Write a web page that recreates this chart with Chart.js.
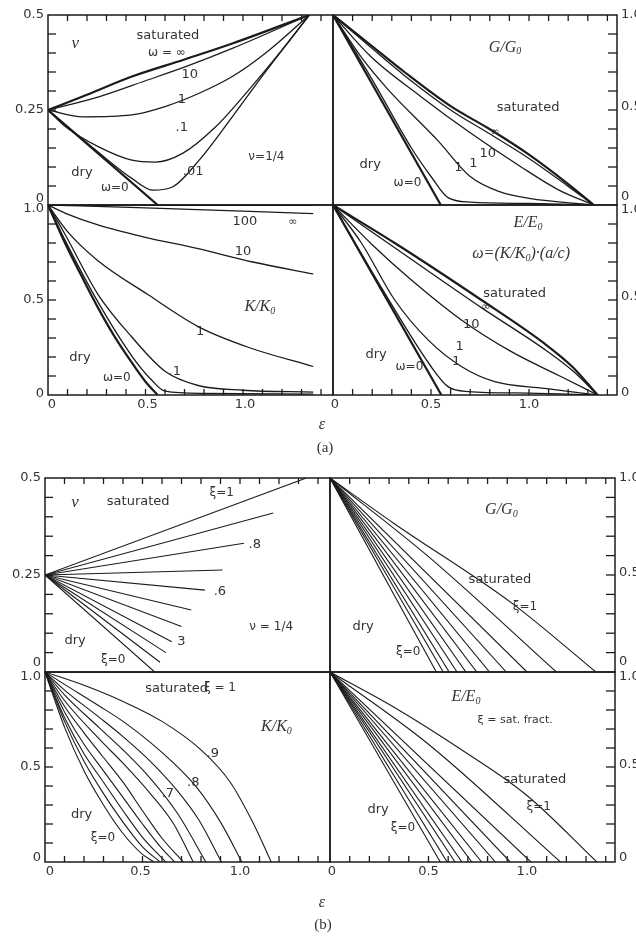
<!DOCTYPE html>
<html><head><meta charset="utf-8">
<script src="https://cdn.jsdelivr.net/npm/chart.js@4.4.0/dist/chart.umd.min.js"></script>
<style>
html,body{margin:0;padding:0;background:#fff;width:636px;height:936px;overflow:hidden}
canvas{position:absolute;left:0}
</style></head><body>
<canvas id="aTL" width="636" height="460" style="top:0"></canvas>
<canvas id="aTR" width="636" height="460" style="top:0"></canvas>
<canvas id="aBL" width="636" height="460" style="top:0"></canvas>
<canvas id="aBR" width="636" height="460" style="top:0"></canvas>
<canvas id="bTL" width="636" height="476" style="top:460px"></canvas>
<canvas id="bTR" width="636" height="476" style="top:460px"></canvas>
<canvas id="bBL" width="636" height="476" style="top:460px"></canvas>
<canvas id="bBR" width="636" height="476" style="top:460px"></canvas>
<script>
// ---------- tick labels ----------
const nuTickValues = [0, 0.25, 0.5];
const nuTickLabels = ['0', '0.25', '0.5'];
const modTickValues = [0, 0.5, 1.0];
const modTickLabels = ['0', '0.5', '1.0'];
const epsTickValues = [0, 0.5, 1.0];
const epsTickLabels = ['0', '0.5', '1.0'];

// ---------- (a) Poisson ratio vs crack density, by omega ----------
const aNuInf = [[0,0.25],[0.2,0.29],[0.43,0.338],[0.7,0.383],[0.945,0.425],[1.34,0.5]];
const aNu10  = [[0,0.25],[0.256,0.284],[0.5,0.327],[0.706,0.364],[0.945,0.412],[1.34,0.5]];
const aNu1   = [[0,0.25],[0.18,0.232],[0.43,0.237],[0.6,0.259],[0.775,0.294],[0.945,0.338],[1.116,0.4],[1.34,0.5]];
const aNu01  = [[0,0.25],[0.09,0.206],[0.26,0.153],[0.43,0.118],[0.55,0.113],[0.69,0.136],[0.86,0.206],[1.03,0.303],[1.2,0.408],[1.34,0.5]];
const aNu001 = [[0,0.25],[0.26,0.138],[0.43,0.07],[0.54,0.039],[0.64,0.048],[0.775,0.118],[0.945,0.232],[1.116,0.351],[1.34,0.5]];
const aNuDry = [[0,0.25],[0.5625,0]];

// ---------- (a) G/G0 ----------
const aGInf = [[0,1],[0.2,0.835],[0.364,0.70],[0.6,0.52],[0.79,0.405],[1.0,0.265],[1.2,0.11],[1.33,0]];
const aG10  = [[0,1],[0.2,0.823],[0.364,0.682],[0.6,0.5],[0.79,0.38],[1.0,0.245],[1.2,0.098],[1.33,0]];
const aG1   = [[0,1],[0.194,0.78],[0.449,0.57],[0.7,0.38],[0.96,0.2],[1.15,0.08],[1.33,0]];
const aG01  = [[0,1],[0.15,0.77],[0.279,0.61],[0.534,0.34],[0.7,0.15],[0.85,0.07],[1.0,0.035],[1.33,0]];
const aG001 = [[0,1],[0.2,0.66],[0.4,0.3],[0.5,0.15],[0.585,0.04],[0.7,0.015],[1.0,0.008],[1.33,0]];
const aGDry = [[0,1],[0.55,0]];

// ---------- (a) K/K0 ----------
const aKInf = [[0,1],[1.36,1]];
const aK100 = [[0,1],[0.5,0.985],[1.36,0.955]];
const aK10  = [[0,1],[0.1,0.952],[0.256,0.895],[0.5,0.83],[0.77,0.77],[1.05,0.7],[1.36,0.637]];
const aK1   = [[0,1],[0.1,0.86],[0.256,0.707],[0.51,0.53],[0.77,0.36],[1.03,0.25],[1.36,0.15]];
const aK01  = [[0,1],[0.085,0.85],[0.256,0.53],[0.43,0.305],[0.6,0.125],[0.77,0.05],[1.0,0.025],[1.36,0.015]];
const aK001 = [[0,1],[0.087,0.815],[0.256,0.49],[0.43,0.205],[0.53,0.08],[0.6,0.02],[0.8,0.008],[1.36,0.005]];
const aKDry = [[0,1],[0.087,0.8],[0.17,0.63],[0.256,0.46],[0.34,0.31],[0.43,0.17],[0.5,0.07],[0.5625,0]];

// ---------- (a) E/E0 ----------
const aEInf = [[0,1],[0.315,0.8],[0.757,0.5],[1.08,0.27],[1.22,0.15],[1.35,0]];
const aE10  = [[0,1],[0.315,0.775],[0.757,0.46],[1.08,0.24],[1.22,0.13],[1.35,0]];
const aE1   = [[0,1],[0.196,0.795],[0.4,0.605],[0.655,0.395],[0.91,0.228],[1.165,0.096],[1.35,0]];
const aE01  = [[0,1],[0.145,0.8],[0.315,0.5],[0.485,0.29],[0.655,0.15],[0.825,0.07],[1.08,0.035],[1.35,0]];
const aE001 = [[0,1],[0.25,0.56],[0.5,0.15],[0.587,0.044],[0.69,0.018],[1.0,0.01],[1.35,0]];
const aEDry = [[0,1],[0.553,0]];

// ---------- (b) saturation fraction xi = 0, .1, ... 1 ----------
const bNu = [
  [[0,0.25],[0.5625,0]],
  [[0,0.25],[0.59,0.025]],
  [[0,0.25],[0.62,0.05]],
  [[0,0.25],[0.65,0.078]],
  [[0,0.25],[0.70,0.117]],
  [[0,0.25],[0.75,0.16]],
  [[0,0.25],[0.82,0.211]],
  [[0,0.25],[0.91,0.263]],
  [[0,0.25],[1.02,0.332]],
  [[0,0.25],[1.17,0.41]],
  [[0,0.25],[1.34,0.5]]
];
const bG = [
  [[0,1],[0.54,0]],
  [[0,1],[0.575,0]],
  [[0,1],[0.605,0]],
  [[0,1],[0.645,0]],
  [[0,1],[0.69,0]],
  [[0,1],[0.745,0]],
  [[0,1],[0.81,0]],
  [[0,1],[0.895,0]],
  [[0,1],[1.0,0]],
  [[0,1],[0.5,0.595],[1.15,0]],
  [[0,1],[0.323,0.767],[0.93,0.35],[1.35,0]]
];
const bK = [
  [[0,1],[0.1,0.71],[0.2,0.48],[0.3,0.30],[0.4,0.15],[0.5,0.04],[0.56,0]],
  [[0,1],[0.1,0.74],[0.2,0.53],[0.3,0.36],[0.4,0.21],[0.5,0.08],[0.59,0]],
  [[0,1],[0.1,0.76],[0.2,0.57],[0.3,0.42],[0.4,0.27],[0.5,0.13],[0.62,0]],
  [[0,1],[0.1,0.79],[0.2,0.62],[0.3,0.48],[0.4,0.34],[0.5,0.2],[0.6,0.07],[0.665,0]],
  [[0,1],[0.1,0.82],[0.2,0.68],[0.3,0.55],[0.4,0.42],[0.5,0.27],[0.6,0.125],[0.71,0]],
  [[0,1],[0.1,0.85],[0.28,0.645],[0.4,0.52],[0.54,0.36],[0.66,0.2],[0.76,0]],
  [[0,1],[0.1,0.88],[0.28,0.705],[0.4,0.59],[0.54,0.44],[0.68,0.255],[0.825,0]],
  [[0,1],[0.1,0.905],[0.28,0.76],[0.4,0.66],[0.54,0.53],[0.675,0.38],[0.79,0.22],[0.905,0]],
  [[0,1],[0.1,0.935],[0.28,0.82],[0.4,0.74],[0.54,0.63],[0.66,0.52],[0.78,0.39],[0.9,0.21],[1.01,0]],
  [[0,1],[0.2,0.93],[0.4,0.845],[0.6,0.74],[0.8,0.59],[0.95,0.42],[1.07,0.2],[1.16,0]],
  [[0,1],[1.46,1]]
];
const bE = [
  [[0,1],[0.56,0]],
  [[0,1],[0.595,0]],
  [[0,1],[0.635,0]],
  [[0,1],[0.67,0]],
  [[0,1],[0.72,0]],
  [[0,1],[0.77,0]],
  [[0,1],[0.84,0]],
  [[0,1],[0.915,0]],
  [[0,1],[1.02,0]],
  [[0,1],[0.5,0.62],[1.17,0]],
  [[0,1],[0.323,0.816],[0.66,0.596],[1.0,0.35],[1.355,0]]
];

// ---------- styling & helpers ----------
const INK = '#1b1b1b';
const TXT = '#333';
const SANS = '"DejaVu Sans", sans-serif';
const SERIF = '"Liberation Serif", "DejaVu Serif", serif';

function fontFor(kind, size) {
  if (kind === 'si') return 'italic ' + size + 'px ' + SERIF;
  if (kind === 'serif') return size + 'px ' + SERIF;
  return size + 'px ' + SANS;
}
function drawRich(ctx, text, x, y, kind, size, align) {
  const segs = [];
  for (let i = 0; i < text.length; i++) {
    if (text[i] === '_' && i + 1 < text.length) { segs.push({t: text[i+1], sub: true}); i++; }
    else if (segs.length && !segs[segs.length-1].sub) segs[segs.length-1].t += text[i];
    else segs.push({t: text[i], sub: false});
  }
  let w = 0;
  segs.forEach(s => { ctx.font = fontFor(kind, s.sub ? Math.round(size*0.65) : size); s.w = ctx.measureText(s.t).width; w += s.w; });
  let cx = align === 'left' ? x : align === 'right' ? x - w : x - w/2;
  ctx.textAlign = 'left'; ctx.textBaseline = 'middle';
  segs.forEach(s => {
    ctx.font = fontFor(kind, s.sub ? Math.round(size*0.65) : size);
    ctx.fillText(s.t, cx, s.sub ? y + size*0.28 : y);
    cx += s.w;
  });
}

const framePlugin = {
  id: 'frame',
  afterDatasetsDraw(chart, args, o) {
    const {ctx, chartArea: a, scales: {x, y}} = chart;
    ctx.save();
    ctx.strokeStyle = INK; ctx.lineWidth = 1.5;
    ctx.strokeRect(a.left, a.top, a.right - a.left, a.bottom - a.top);
    ctx.lineWidth = 1.3;
    (o.ticks || []).forEach(t => {
      const horiz = (t.side === 'top' || t.side === 'bottom');
      const sc = horiz ? x : y;
      for (let i = 1; i * t.step < sc.max - 1e-6; i++) {
        const p = sc.getPixelForValue(i * t.step);
        ctx.beginPath();
        if (t.side === 'top') { ctx.moveTo(p, a.top); ctx.lineTo(p, a.top + t.len); }
        if (t.side === 'bottom') { ctx.moveTo(p, a.bottom); ctx.lineTo(p, a.bottom - t.len); }
        if (t.side === 'left') { ctx.moveTo(a.left, p); ctx.lineTo(a.left + t.len, p); }
        if (t.side === 'right') { ctx.moveTo(a.right, p); ctx.lineTo(a.right - t.len, p); }
        ctx.stroke();
      }
    });
    ctx.fillStyle = TXT;
    if (o.yLabels) {
      const L = o.yLabels;
      L.values.forEach((v, i) => {
        const py = y.getPixelForValue(v) + (L.dy[i] || 0);
        if (L.side === 'left') drawRich(ctx, L.texts[i], a.left - 4, py, 'sans', 13, 'right');
        else drawRich(ctx, L.texts[i], a.right + 4, py, 'sans', 13, 'left');
      });
    }
    if (o.xLabels) {
      const L = o.xLabels;
      L.values.forEach((v, i) => {
        const px = x.getPixelForValue(v) + (L.dx[i] || 0);
        drawRich(ctx, L.texts[i], px, a.bottom + 10, 'sans', 13, 'center');
      });
    }
    (o.notes || []).forEach(n => {
      drawRich(ctx, n.t, x.getPixelForValue(n.x), y.getPixelForValue(n.y), n.f || 'sans', n.s || 13, 'center');
    });
    (o.captions || []).forEach(n => {
      drawRich(ctx, n.t, n.px, n.py, n.f, n.s, 'center');
    });
    ctx.restore();
  }
};

function ds(arr, w, smooth) {
  return {
    data: arr.map(p => ({x: p[0], y: p[1]})),
    showLine: true, borderColor: INK, borderWidth: w, pointRadius: 0,
    cubicInterpolationMode: smooth ? 'monotone' : 'default', tension: 0, fill: false
  };
}

function panel(id, pad, xMax, yMax, datasets, frame) {
  new Chart(document.getElementById(id), {
    type: 'scatter',
    data: {datasets},
    options: {
      responsive: false, animation: false, devicePixelRatio: 1, events: [],
      layout: {padding: pad},
      plugins: {legend: {display: false}, tooltip: {enabled: false}, frame},
      scales: {
        x: {type: 'linear', min: 0, max: xMax, display: false},
        y: {type: 'linear', min: 0, max: yMax, display: false}
      }
    },
    plugins: [framePlugin]
  });
}

const T = 2.2, N = 1.3, B = 1.1;

// ---------------- figure (a) ----------------
panel('aTL', {left: 48, top: 15, right: 303, bottom: 255}, 1.4615, 0.5,
  [ds(aNuDry, T, false), ds(aNu001, N, true), ds(aNu01, N, true), ds(aNu1, N, true), ds(aNu10, N, true), ds(aNuInf, T, true)],
  { ticks: [{side: 'top', step: 0.1, len: 6}, {side: 'left', step: 0.05, len: 8}],
    yLabels: {side: 'left', values: nuTickValues, texts: nuTickLabels, dy: [-6, 0, 0]},
    notes: [
      {x: 0.14, y: 0.426, t: 'ν', f: 'si', s: 17},
      {x: 0.615, y: 0.447, t: 'saturated'},
      {x: 0.61, y: 0.40, t: 'ω = ∞', s: 12},
      {x: 0.727, y: 0.342, t: '10'},
      {x: 0.686, y: 0.276, t: '1'},
      {x: 0.686, y: 0.203, t: '.1'},
      {x: 0.744, y: 0.087, t: '.01'},
      {x: 1.12, y: 0.126, t: 'ν=1/4', s: 12},
      {x: 0.174, y: 0.084, t: 'dry'},
      {x: 0.343, y: 0.045, t: 'ω=0', s: 12}
    ] });

panel('aTR', {left: 333, top: 15, right: 19, bottom: 255}, 1.449, 1,
  [ds(aGDry, T, false), ds(aG001, N, true), ds(aG01, N, true), ds(aG1, N, true), ds(aG10, N, true), ds(aGInf, T, true)],
  { ticks: [{side: 'top', step: 0.1, len: 6}, {side: 'right', step: 0.1, len: 9}],
    yLabels: {side: 'right', values: modTickValues, texts: modTickLabels, dy: [-8, -3, 0]},
    notes: [
      {x: 0.878, y: 0.83, t: 'G/G_0', f: 'si', s: 16},
      {x: 0.995, y: 0.51, t: 'saturated'},
      {x: 0.827, y: 0.385, t: '∞', s: 11},
      {x: 0.79, y: 0.27, t: '10'},
      {x: 0.716, y: 0.22, t: '1'},
      {x: 0.64, y: 0.195, t: '1'},
      {x: 0.19, y: 0.21, t: 'dry'},
      {x: 0.38, y: 0.115, t: 'ω=0', s: 12}
    ] });

panel('aBL', {left: 48, top: 205, right: 303, bottom: 65}, 1.4615, 1,
  [ds(aKDry, T, true), ds(aK001, N, true), ds(aK01, N, true), ds(aK1, N, true), ds(aK10, N, true), ds(aK100, N, true), ds(aKInf, T, false)],
  { ticks: [{side: 'left', step: 0.1, len: 8}, {side: 'bottom', step: 0.1, len: 6}],
    yLabels: {side: 'left', values: modTickValues, texts: modTickLabels, dy: [-1, 0, 4]},
    xLabels: {values: epsTickValues, texts: epsTickLabels, dx: [4, 2, 2]},
    notes: [
      {x: 1.086, y: 0.465, t: 'K/K_0', f: 'si', s: 16},
      {x: 1.01, y: 0.912, t: '100'},
      {x: 1.256, y: 0.91, t: '∞', s: 11},
      {x: 1.0, y: 0.754, t: '10'},
      {x: 0.78, y: 0.333, t: '1'},
      {x: 0.65, y: 0.123, t: '.1'},
      {x: 0.164, y: 0.195, t: 'dry'},
      {x: 0.353, y: 0.089, t: 'ω=0', s: 12}
    ],
    captions: [
      {px: 322, py: 425, t: 'ε', f: 'si', s: 16},
      {px: 325, py: 448, t: '(a)', f: 'serif', s: 15}
    ] });

panel('aBR', {left: 333, top: 205, right: 19, bottom: 65}, 1.449, 1,
  [ds(aEDry, T, false), ds(aE001, N, true), ds(aE01, N, true), ds(aE1, N, true), ds(aE10, N, true), ds(aEInf, T, true)],
  { ticks: [{side: 'right', step: 0.1, len: 9}, {side: 'bottom', step: 0.1, len: 6}],
    yLabels: {side: 'right', values: modTickValues, texts: modTickLabels, dy: [-2, -3, 5]},
    xLabels: {values: epsTickValues, texts: epsTickLabels, dx: [2, 0, 0]},
    notes: [
      {x: 0.995, y: 0.905, t: 'E/E_0', f: 'si', s: 16},
      {x: 0.96, y: 0.745, t: 'ω=(K/K_0)·(a/c)', f: 'si', s: 16},
      {x: 0.927, y: 0.535, t: 'saturated'},
      {x: 0.78, y: 0.465, t: '∞', s: 11},
      {x: 0.705, y: 0.368, t: '10'},
      {x: 0.646, y: 0.254, t: '1'},
      {x: 0.628, y: 0.175, t: '1'},
      {x: 0.22, y: 0.21, t: 'dry'},
      {x: 0.39, y: 0.149, t: 'ω=0', s: 12}
    ] });

// ---------------- figure (b) ----------------
panel('bTL', {left: 45, top: 18, right: 306, bottom: 264}, 1.4615, 0.5,
  bNu.map(s => ds(s, B, false)),
  { ticks: [{side: 'top', step: 0.1, len: 6}, {side: 'left', step: 0.05, len: 8}],
    yLabels: {side: 'left', values: nuTickValues, texts: nuTickLabels, dy: [-9, 0, 0]},
    notes: [
      {x: 0.154, y: 0.436, t: 'ν', f: 'si', s: 17},
      {x: 0.478, y: 0.438, t: 'saturated'},
      {x: 0.906, y: 0.461, t: 'ξ=1', s: 12},
      {x: 1.076, y: 0.327, t: '.8'},
      {x: 0.897, y: 0.207, t: '.6'},
      {x: 0.70, y: 0.078, t: '3'},
      {x: 1.16, y: 0.117, t: 'ν = 1/4', s: 12},
      {x: 0.154, y: 0.082, t: 'dry'},
      {x: 0.35, y: 0.031, t: 'ξ=0', s: 12}
    ] });

panel('bTR', {left: 330, top: 18, right: 21, bottom: 264}, 1.447, 1,
  bG.map((s, i) => ds(s, B, i >= 9)),
  { ticks: [{side: 'top', step: 0.1, len: 6}, {side: 'right', step: 0.1, len: 9}],
    yLabels: {side: 'right', values: modTickValues, texts: modTickLabels, dy: [-10, -2, 0]},
    notes: [
      {x: 0.87, y: 0.835, t: 'G/G_0', f: 'si', s: 16},
      {x: 0.863, y: 0.474, t: 'saturated'},
      {x: 0.99, y: 0.337, t: 'ξ=1', s: 12},
      {x: 0.168, y: 0.234, t: 'dry'},
      {x: 0.397, y: 0.105, t: 'ξ=0', s: 12}
    ] });

panel('bBL', {left: 45, top: 212, right: 306, bottom: 74}, 1.4615, 1,
  bK.map(s => ds(s, B, true)),
  { ticks: [{side: 'left', step: 0.1, len: 8}, {side: 'bottom', step: 0.1, len: 6}],
    yLabels: {side: 'left', values: modTickValues, texts: modTickLabels, dy: [-4, 0, 5]},
    xLabels: {values: epsTickValues, texts: epsTickLabels, dx: [5, -2, 0]},
    notes: [
      {x: 0.675, y: 0.914, t: 'saturated'},
      {x: 0.897, y: 0.916, t: 'ξ = 1', s: 12},
      {x: 1.187, y: 0.712, t: 'K/K_0', f: 'si', s: 16},
      {x: 0.86, y: 0.573, t: '.9'},
      {x: 0.76, y: 0.42, t: '.8'},
      {x: 0.63, y: 0.36, t: '.7'},
      {x: 0.188, y: 0.247, t: 'dry'},
      {x: 0.297, y: 0.126, t: 'ξ=0', s: 12}
    ],
    captions: [
      {px: 322, py: 443, t: 'ε', f: 'si', s: 16},
      {px: 323, py: 465, t: '(b)', f: 'serif', s: 15}
    ] });

panel('bBR', {left: 330, top: 212, right: 21, bottom: 74}, 1.447, 1,
  bE.map((s, i) => ds(s, B, i >= 9)),
  { ticks: [{side: 'right', step: 0.1, len: 9}, {side: 'bottom', step: 0.1, len: 6}],
    yLabels: {side: 'right', values: modTickValues, texts: modTickLabels, dy: [-4, -2, 5]},
    xLabels: {values: epsTickValues, texts: epsTickLabels, dx: [2, 0, 0]},
    notes: [
      {x: 0.69, y: 0.87, t: 'E/E_0', f: 'si', s: 16},
      {x: 0.94, y: 0.747, t: 'ξ = sat. fract.', s: 11},
      {x: 1.04, y: 0.432, t: 'saturated'},
      {x: 1.06, y: 0.291, t: 'ξ=1', s: 12},
      {x: 0.244, y: 0.274, t: 'dry'},
      {x: 0.37, y: 0.18, t: 'ξ=0', s: 12}
    ] });
</script>
</body></html>
